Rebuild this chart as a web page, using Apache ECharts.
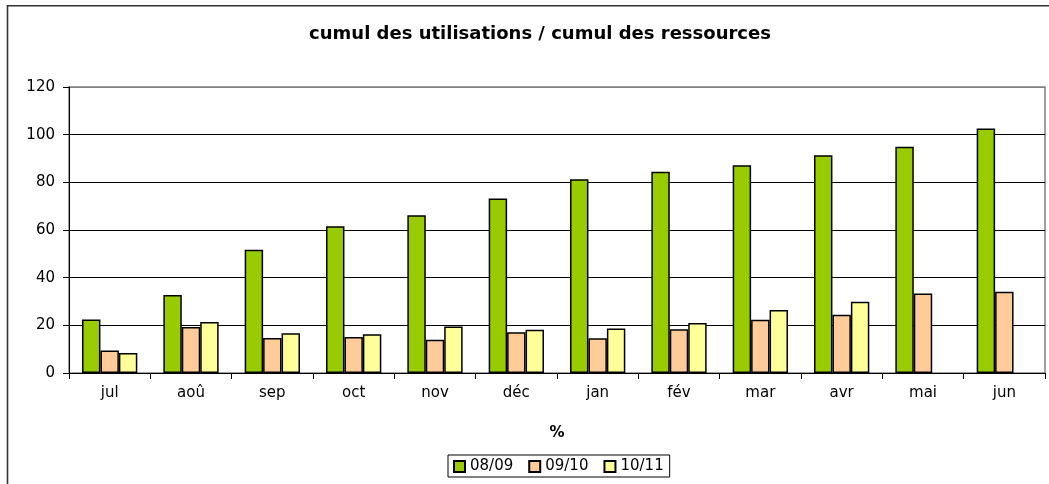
<!DOCTYPE html>
<html>
<head>
<meta charset="utf-8">
<script src="https://cdn.jsdelivr.net/npm/echarts@6/dist/echarts.min.js"></script>
<style>
html,body{margin:0;padding:0;background:#fff;}
#chart{width:1049px;height:484px;}
</style>
</head>
<body>
<div id="chart"></div>
<script>
const months = ['jul','aoû','sep','oct','nov','déc','jan','fév','mar','avr','mai','jun'];
const s0809 = [22.4, 32.7, 51.7, 61.6, 66.2, 73.2, 81.3, 84.4, 87.2, 91.4, 94.9, 102.6];
const s0910 = [9.4, 19.3, 14.7, 15.1, 14.0, 17.1, 14.6, 18.4, 22.3, 24.4, 33.4, 34.1];
const s1011 = [8.4, 21.4, 16.7, 16.3, 19.5, 18.1, 18.7, 21.0, 26.4, 29.9, null, null];
const seriesNames = ['08/09', '09/10', '10/11'];
const yTicks = [0, 20, 40, 60, 80, 100, 120];

const font = 'DejaVu Sans';
const colors = ['#99CC00', '#FFCC99', '#FFFF99'];
const chart = echarts.init(document.getElementById('chart'), null, {renderer: 'canvas'});
const dataSets = [s0809, s0910, s1011];

chart.setOption({
  animation: false,
  backgroundColor: '#fff',
  textStyle: {fontFamily: font},
  title: {
    text: 'cumul des utilisations / cumul des ressources',
    left: 535, top: 20, textAlign: 'center',
    textStyle: {fontFamily: font, fontSize: 18, fontWeight: 'bold', color: '#000'}
  },
  graphic: [{
    type: 'rect', silent: true,
    shape: {x: 7.5, y: 5.8, width: 1200, height: 700},
    style: {fill: null, stroke: '#333', lineWidth: 1.6}
  }],
  legend: {
    left: 448, top: 455,
    orient: 'horizontal',
    backgroundColor: '#fff',
    borderColor: '#000', borderWidth: 1,
    padding: [4, 6, 3, 5],
    itemGap: 15,
    itemWidth: 11, itemHeight: 11,
    icon: 'rect',
    textStyle: {fontFamily: font, fontSize: 15, color: '#000'},
    data: seriesNames
  },
  grid: {
    left: 69, right: 4, top: 87, bottom: 111,
    show: true, borderColor: '#808080', borderWidth: 1.5,
    containLabel: false
  },
  xAxis: {
    type: 'category',
    data: months,
    boundaryGap: true,
    name: '%',
    nameLocation: 'middle',
    nameGap: 53,
    nameTextStyle: {fontFamily: font, fontSize: 15, fontWeight: 'bold', color: '#000'},
    axisLine: {lineStyle: {color: '#000', width: 1}},
    axisTick: {show: true, length: 6, lineStyle: {color: '#000'}, alignWithLabel: false},
    axisLabel: {fontFamily: font, fontSize: 15, color: '#000', margin: 13}
  },
  yAxis: {
    type: 'value',
    min: 0, max: 120, interval: 20,
    axisLine: {show: true, lineStyle: {color: '#000', width: 1}},
    axisTick: {show: true, length: 6, lineStyle: {color: '#000'}},
    axisLabel: {fontFamily: font, fontSize: 15, color: '#000', margin: 14},
    splitLine: {show: true, lineStyle: {color: ['#000','#000','#000','#000','#000','#000','#808080'], width: 1}}
  },
  series: seriesNames.map((n, i) => ({
    name: n,
    type: 'bar',
    data: dataSets[i],
    barGap: '0%',
    barCategoryGap: '32%',
    itemStyle: {color: colors[i], borderColor: '#000', borderWidth: 1.5}
  }))
});
</script>
</body>
</html>
